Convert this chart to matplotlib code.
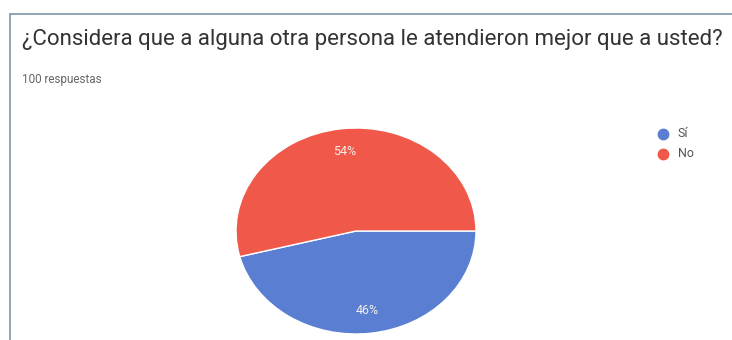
import matplotlib
matplotlib.use("Agg")
import matplotlib.pyplot as plt
from matplotlib.patches import Rectangle
from matplotlib.lines import Line2D

# Datos del gráfico
pregunta = "¿Considera que a alguna otra persona le atendieron mejor que a usted?"
respuestas = "100 respuestas"
categorias = ["Sí", "No"]
valores = [46, 54]
colores = ["#5a7fd2", "#f0584a"]

W, H = 732, 340
plt.rcParams["font.family"] = ["Roboto", "DejaVu Sans"]
fig = plt.figure(figsize=(W / 100, H / 100), dpi=100)

def px(x, y):
    # pasa pixeles (origen arriba a la izquierda) a coordenadas de figura
    return x / W, 1 - y / H

# Marco de la tarjeta
fig.patches.append(Rectangle(px(10, 345), (W + 20) / W, (345 - 14) / H,
                             transform=fig.transFigure, fill=False,
                             edgecolor="#7f93a6", linewidth=1.2))

fig.text(*px(22, 39), pregunta, fontsize=16, color="#333333", va="center")
fig.text(*px(22, 80), respuestas, fontsize=8.4, color="#666666", va="center")

# Pastel (eliptico, como en la captura)
cx, cy, rx, ry = 356, 231, 120, 103
ax = fig.add_axes([(cx - rx) / W, 1 - (cy + ry) / H, 2 * rx / W, 2 * ry / H])
wedges, _, autotexts = ax.pie(valores, colors=colores, startangle=0, counterclock=False,
                              autopct="%1.0f%%", pctdistance=0.78,
                              wedgeprops=dict(edgecolor="white", linewidth=1))
for t in autotexts:
    t.set_color("#f4f0e8")
    t.set_fontsize(9)
ax.set_aspect("auto")
ax.set_xlim(-1, 1)
ax.set_ylim(-1, 1)
ax.axis("off")

# Leyenda
for i, (cat, col) in enumerate(zip(categorias, colores)):
    y = 134 + i * 20
    fig.add_artist(Line2D([663 / W], [1 - y / H], marker="o", markersize=7.5,
                          color=col, transform=fig.transFigure))
    fig.text(*px(678, y), cat, fontsize=9, color="#555555", va="center")

fig.savefig("out.png", dpi=100)
